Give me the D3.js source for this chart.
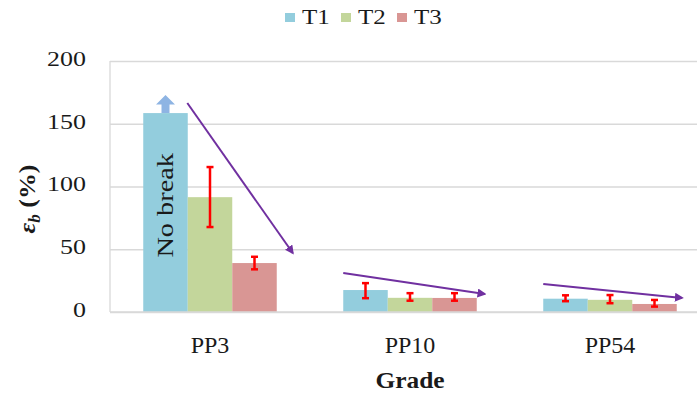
<!DOCTYPE html>
<html>
<head>
<meta charset="utf-8">
<script src="https://cdn.jsdelivr.net/npm/d3@7"></script>
<style>
body { margin:0; background:#fff; }
svg text { font-family:"Liberation Serif","Times New Roman",serif; fill:#1a1a1a; }
</style>
</head>
<body>
<svg id="chart" width="697" height="396"></svg>
<script>

var grades=["PP3","PP10","PP54"];
var series=["T1","T2","T3"];
var seriescolors=["#93CDDD","#C3D69B","#D99694"];

// bar values per grade, in order T1,T2,T3
var t1_vals=[158.5,17.5,10.6];
var t2_vals=[91.5,11.3,9.7];
var t3_vals=[39,11.2,6.4];

// error bars [low,high], null = none
var t1_err=[null,[11,23],[8.6,13.3]];
var t2_err=[[67.7,115.5],[9,15],[7,13.5]];
var t3_err=[[34,44],[9,15],[4.3,9.6]];

var y_ticks=[0,50,100,150,200];

// trend arrows : grade, start/end as fraction of band, start/end value
var trend_grade=["PP3","PP10","PP54"];
var trend_x0=[0.33,0,0];
var trend_x1=[1.12,1.06,1.04];
var trend_v0=[166.5,31,22.3];
var trend_v1=[47,14.3,11.2];

var up_arrow_top=173;


// text placed at x,y and widened along its own direction
var stretchText=function(sel,x,y,sx,rot)
	{
	var t="translate("+x+","+y+")";
	if(rot) t=t+" rotate("+rot+")";
	t=t+" scale("+sx+",1)";
	return sel.append("text").attr("transform",t);
	};


window.onload = function() {
	var svg=d3.select("#chart");
	var left=110, right=710, top=61, bottom=312;

	var x0=d3.scaleBand().domain(grades).range([left,right]).paddingInner(0.3325).paddingOuter(0.16625);
	var x1=d3.scaleBand().domain(series).range([0,x0.bandwidth()]);
	var y=d3.scaleLinear().domain([0,200]).range([bottom,top]);
	var color=d3.scaleOrdinal().domain(series).range(seriescolors);

	var vals=[t1_vals,t2_vals,t3_vals];
	var errs=[t1_err,t2_err,t3_err];
	var recs=[];
	for(var g=0;g<grades.length;g++)
		{
		for(var s=0;s<series.length;s++)
			{
			recs.push({grade:grades[g],ser:series[s],val:vals[s][g],err:errs[s][g]});
			}
		}
	console.log("num recs is "+recs.length);

	// gridlines
	svg.append("g")
		.attr("transform","translate("+left+",0)")
		.call(d3.axisLeft(y).tickValues(y_ticks).tickSize(-(right-left)).tickFormat(""))
		.call(function(g) {
			g.select(".domain").remove();
			g.selectAll("line").attr("stroke","#d9d9d9").attr("stroke-width",1.3);
			});

	// left axis line
	svg.append("line")
		.attr("x1",left).attr("x2",left).attr("y1",top).attr("y2",bottom)
		.attr("stroke","#d9d9d9").attr("stroke-width",1.3);

	// tick labels
	var tick_sx=1.18;
	var yax=svg.append("g")
		.attr("transform","translate("+left+",0)")
		.call(d3.axisLeft(y).tickValues(y_ticks).tickSize(0));
	yax.select(".domain").remove();
	yax.selectAll("text")
		.attr("x",-24/tick_sx)
		.attr("dy","0.2em")
		.attr("transform","scale("+tick_sx+",1)")
		.style("font-size","22px").attr("fill","#222");

	// bars
	svg.selectAll("rect.bar")
		.data(recs)
		.enter()
		.append("rect")
		.attr("class","bar")
		.attr("x",function(d) { return x0(d.grade)+x1(d.ser); })
		.attr("y",function(d) { return y(d.val); })
		.attr("width",x1.bandwidth())
		.attr("height",function(d) { return y(0)-y(d.val); })
		.style("fill",function(d) { return color(d.ser); });

	// bottom axis line (over bars)
	svg.append("line")
		.attr("x1",left).attr("x2",right).attr("y1",bottom).attr("y2",bottom)
		.attr("stroke","#d9d9d9").attr("stroke-width",1.3);

	// error bars
	var errrecs=recs.filter(function(d) { return d.err!=null; });
	var eg=svg.selectAll("g.err")
		.data(errrecs)
		.enter()
		.append("g")
		.attr("class","err")
		.attr("transform",function(d) { return "translate("+(x0(d.grade)+x1(d.ser)+x1.bandwidth()/2)+",0)"; });
	eg.append("line")
		.attr("y1",function(d) { return y(d.err[0]); })
		.attr("y2",function(d) { return y(d.err[1]); })
		.attr("stroke","#ff0000").attr("stroke-width",2.5);
	eg.selectAll("line.cap")
		.data(function(d) { return d.err; })
		.enter()
		.append("line")
		.attr("class","cap")
		.attr("x1",-3.5).attr("x2",3.5)
		.attr("y1",function(v) { return y(v); })
		.attr("y2",function(v) { return y(v); })
		.attr("stroke","#ff0000").attr("stroke-width",2.5);

	// no break block arrow on PP3 T1
	var ax=x0("PP3")+x1("T1")+x1.bandwidth()/2;
	var ab=y(t1_vals[0]), at=y(up_arrow_top);
	var amid=(ab+at)/2+0.5;
	svg.append("path")
		.attr("d","M"+(ax-4)+","+ab+"L"+(ax-4)+","+amid+"L"+(ax-9.5)+","+amid+"L"+ax+","+at
			+"L"+(ax+9.5)+","+amid+"L"+(ax+4)+","+amid+"L"+(ax+4)+","+ab+"Z")
		.style("fill","#8EB4E3");

	stretchText(svg,ax+7,y(85),1.18,-90)
		.attr("text-anchor","middle")
		.style("font-size","24px")
		.text("No break");

	// trend arrows
	svg.append("defs").append("marker")
		.attr("id","arr")
		.attr("viewBox","0 0 10 10")
		.attr("refX",8).attr("refY",5)
		.attr("markerWidth",4.5).attr("markerHeight",4.5)
		.attr("orient","auto")
		.append("path")
		.attr("d","M0,0L10,5L0,10Z")
		.style("fill","#7030A0");
	for(var a=0;a<trend_grade.length;a++)
		{
		var bx=x0(trend_grade[a]), bw=x0.bandwidth();
		svg.append("line")
			.attr("x1",bx+trend_x0[a]*bw).attr("y1",y(trend_v0[a]))
			.attr("x2",bx+trend_x1[a]*bw).attr("y2",y(trend_v1[a]))
			.attr("stroke","#7030A0").attr("stroke-width",2)
			.attr("marker-end","url(#arr)");
		}

	// category labels
	svg.selectAll("text.cat")
		.data(grades)
		.enter()
		.append("text")
		.attr("class","cat")
		.attr("x",function(d) { return x0(d)+x0.bandwidth()/2; })
		.attr("y",353)
		.attr("text-anchor","middle")
		.style("font-size","24px")
		.text(function(d) { return d; });

	stretchText(svg,x0("PP10")+x0.bandwidth()/2,388,1.06,0)
		.attr("text-anchor","middle")
		.style("font-size","24px").style("font-weight","bold")
		.text("Grade");

	// y title
	var yt=stretchText(svg,35,199,1.08,-90)
		.attr("text-anchor","middle")
		.style("font-size","24px").style("font-weight","bold");
	yt.append("tspan").style("font-style","italic").text("ε");
	yt.append("tspan").style("font-style","italic").style("font-size","16px").attr("dy",5).text("b");
	yt.append("tspan").attr("dy",-5).text(" (%)");

	// legend
	var legx=[285,341,397];
	var leg=svg.selectAll("g.leg")
		.data(series)
		.enter()
		.append("g")
		.attr("class","leg")
		.attr("transform",function(d,i) { return "translate("+legx[i]+",0)"; });
	leg.append("rect")
		.attr("x",0).attr("y",13).attr("width",10).attr("height",9)
		.style("fill",function(d) { return color(d); });
	leg.each(function(d) {
		stretchText(d3.select(this),17,24,1.25,0)
			.style("font-size","20px")
			.text(d);
		});
};

</script>
</body>
</html>
